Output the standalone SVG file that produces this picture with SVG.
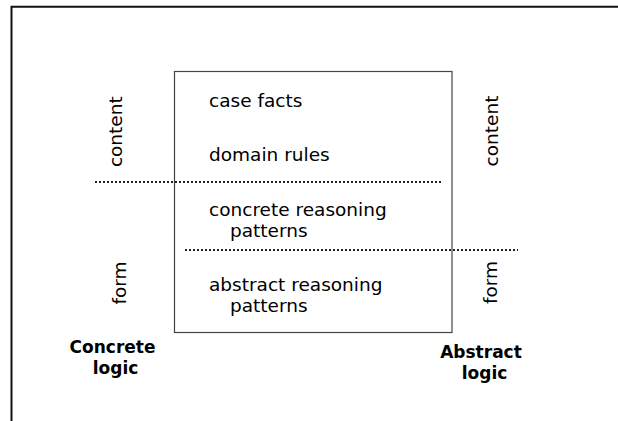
<svg xmlns="http://www.w3.org/2000/svg" width="618" height="421" viewBox="0 0 618 421">
<style>
.t{font-family:"DejaVu Sans","Liberation Sans",sans-serif;font-size:18.5px;fill:#000}
.b{font-family:"DejaVu Sans","Liberation Sans",sans-serif;font-size:17px;font-weight:bold;fill:#000}
.dot{stroke:#222;stroke-width:2;stroke-dasharray:2 2;fill:none}
.frame{stroke:#111;stroke-width:2;fill:none}
</style>
<rect width="618" height="421" fill="#fff"/>
<g id="frame">
<path class="frame" d="M618 6.7 H11.5 V421"/>
</g>
<g id="box">
<rect x="174.5" y="71.5" width="277.5" height="261" fill="none" stroke="#444" stroke-width="1.2"/>
<text class="t" x="209" y="107">case facts</text>
<text class="t" x="209" y="160.5">domain rules</text>
<text class="t" x="209" y="215.5"><tspan x="209">concrete reasoning</tspan><tspan x="230" y="236.5">patterns</tspan></text>
<text class="t" x="209" y="291"><tspan x="209">abstract reasoning</tspan><tspan x="230" y="312">patterns</tspan></text>
</g>
<g id="connectors">
<line class="dot" x1="95" y1="182" x2="442" y2="182"/>
<line class="dot" x1="185" y1="250" x2="518" y2="250"/>
</g>
<g id="left-labels">
<text class="t" transform="translate(122,131.7) rotate(-90)" text-anchor="middle">content</text>
<text class="t" transform="translate(126,283) rotate(-90)" text-anchor="middle">form</text>
</g>
<g id="right-labels">
<text class="t" transform="translate(498,131) rotate(-90)" text-anchor="middle">content</text>
<text class="t" transform="translate(496.5,282.5) rotate(-90)" text-anchor="middle">form</text>
</g>
<g id="concrete-logic">
<text class="b" text-anchor="middle"><tspan x="112.5" y="352.5">Concrete</tspan><tspan x="115.5" y="373.5">logic</tspan></text>
</g>
<g id="abstract-logic">
<text class="b" text-anchor="middle"><tspan x="481" y="357.5">Abstract</tspan><tspan x="484.5" y="379">logic</tspan></text>
</g>
</svg>
